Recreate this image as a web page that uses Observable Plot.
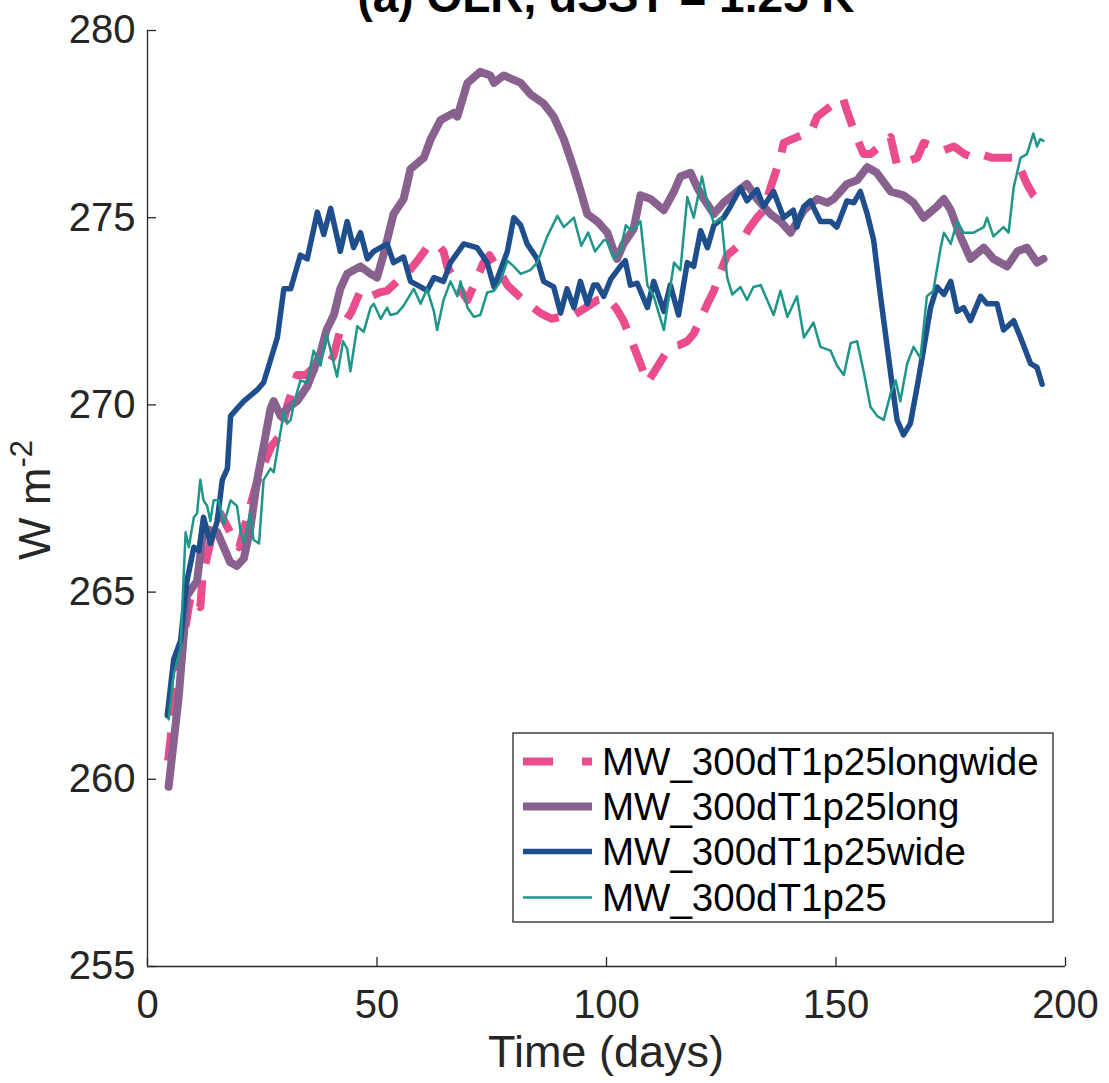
<!DOCTYPE html>
<html>
<head>
<meta charset="utf-8">
<script src="https://cdn.jsdelivr.net/npm/d3@7"></script>
<script src="https://cdn.jsdelivr.net/npm/@observablehq/plot@0.6"></script>
<style>
  html, body { margin: 0; padding: 0; background: #fff; }
  #chart { width: 1109px; height: 1083px; overflow: hidden; }
</style>
</head>
<body>
<div id="chart"></div>
<script>
// ---- Data ----
const seriesNames = ["MW_300dT1p25longwide", "MW_300dT1p25long", "MW_300dT1p25wide", "MW_300dT1p25"];
const xTicks = [0, 50, 100, 150, 200];
const yTicks = [255, 260, 265, 270, 275, 280];

const dayLongwide = [4.5,6.0,7.5,9.4,11.5,12.0,14.0,15.9,18.0,20.0,21.7,23.5,25.3,27.0,29.0,30.5,32.6,34.5,36.2,39.0,40.5,42.0,43.5,44.5,46.4,48.6,50.5,52.2,54.4,56.5,58.8,60.9,63.1,64.5,65.3,67.5,69.7,71.5,73.2,74.5,76.5,78.4,80.5,83.0,85.6,88.0,90.0,92.9,95.5,98.0,100.2,102.0,103.7,105.5,107.4,108.9,110.5,112.5,113.9,115.8,117.6,119.0,120.5,122.0,123.4,125.0,126.3,127.8,129.2,131.0,132.8,134.2,136.0,137.9,138.6,140.5,142.5,144.4,145.9,148.0,150.2,151.5,152.4,154.0,156.0,157.5,159.5,161.9,163.3,165.5,167.7,169.1,171.5,173.5,175.7,178.0,180.0,181.5,184.0,186.5,188.7,190.2,191.6,193.0,194.5,195.2];
const olrLongwide = [260.5,262.2,263.5,264.9,264.6,265.4,266.5,267.1,266.6,266.2,267.0,267.8,268.4,268.9,269.2,270.0,270.8,270.8,271.0,271.0,271.3,272.0,272.3,272.5,273.05,272.9,273.0,273.05,273.3,273.5,273.85,274.2,274.3,274.1,273.7,273.2,272.8,273.3,273.8,274.0,273.6,273.2,272.95,272.7,272.45,272.3,272.35,272.4,272.6,272.8,272.85,272.6,272.25,271.7,271.1,270.6,270.9,271.3,271.55,271.6,271.7,271.9,272.3,272.7,273.05,273.6,274.0,274.15,274.3,274.7,275.0,275.2,275.9,276.6,277.0,277.1,277.2,277.25,277.7,277.9,278.1,278.2,277.85,277.3,276.7,276.7,276.9,277.15,276.4,276.5,276.6,277.0,276.9,276.8,276.9,276.7,276.6,276.7,276.6,276.6,276.6,276.3,275.9,275.6,275.4,275.4];

const dayLong = [4.6,6.8,8.6,10.8,12.2,15.2,18.0,19.5,21.0,22.4,23.9,25.3,26.8,27.5,29.0,30.4,32.6,34.8,37.7,39.0,40.6,42.0,43.5,46.4,48.6,50.0,51.4,53.6,55.8,57.3,60.2,61.7,63.8,66.7,67.5,69.7,72.5,74.7,75.5,77.6,81.3,83.4,86.3,88.5,90.7,92.9,94.4,95.8,98.0,100.2,101.6,102.3,103.7,105.9,107.4,109.6,112.5,114.7,116.1,118.3,119.8,121.2,123.4,125.5,128.5,130.6,132.8,135.7,137.9,140.1,143.0,145.9,148.1,149.5,150.2,152.4,154.6,156.8,158.9,161.9,164.7,166.9,169.1,172.0,173.5,175.0,177.1,179.3,182.2,184.3,187.3,189.5,191.6,193.8,195.2];
const olrLong = [259.8,262.2,264.9,265.3,266.7,266.6,265.8,265.7,265.9,266.7,268.0,268.9,269.9,270.1,269.7,269.9,270.1,270.5,271.4,272.0,272.4,273.1,273.5,273.7,273.5,273.4,274.0,275.1,275.5,276.3,276.6,277.1,277.6,277.8,277.7,278.6,278.9,278.8,278.6,278.8,278.6,278.3,278.05,277.7,277.1,276.3,275.7,275.1,274.9,274.6,274.1,273.9,274.3,274.7,275.6,275.5,275.2,275.7,276.1,276.2,275.8,275.5,275.1,275.4,275.7,275.9,275.5,275.1,274.9,274.6,275.2,275.5,275.4,275.5,275.6,275.9,276.0,276.35,276.2,275.7,275.6,275.4,275.0,275.3,275.5,275.2,274.5,273.9,274.2,273.9,273.7,274.1,274.2,273.8,273.9];

const dayWide = [4.3,5.7,7.2,8.6,10.1,11.2,12.2,13.7,15.2,16.3,17.4,18.1,19.5,21.0,23.9,25.3,26.8,28.3,29.7,31.2,33.3,34.8,37.0,38.4,39.9,42.0,43.5,44.9,46.4,47.9,49.3,52.2,53.6,55.8,57.3,59.5,60.9,62.4,64.5,66.0,68.9,71.8,74.0,75.5,76.9,78.4,79.8,81.3,82.7,84.9,86.3,88.5,90.0,91.4,92.9,94.3,95.8,97.2,98.0,99.4,100.9,103.0,104.1,105.2,106.7,108.9,110.3,112.5,113.9,115.7,117.6,119.0,120.5,122.0,123.4,125.5,127.0,129.2,130.6,132.8,134.2,136.4,138.6,140.7,141.5,143.0,144.4,146.6,148.8,150.2,152.4,153.9,155.3,156.8,158.2,158.9,159.7,160.4,161.9,163.3,164.7,166.2,167.7,169.1,170.6,172.0,173.5,175.0,176.4,177.8,179.3,181.5,182.9,185.1,186.5,188.7,190.2,192.4,193.8,194.9];
const olrWide = [261.7,263.2,263.7,265.3,266.2,266.1,267.0,266.3,266.9,268.0,268.3,269.7,269.9,270.1,270.4,270.6,271.2,271.8,273.1,273.1,274.0,273.9,275.15,274.55,275.25,274.1,274.9,274.2,274.6,273.9,274.1,274.3,273.8,273.95,273.3,273.15,273.05,273.4,273.3,273.8,274.3,274.2,273.8,273.15,273.6,274.1,275.0,274.8,274.3,273.9,273.3,273.15,272.45,273.1,272.6,273.3,272.7,273.2,273.2,272.9,273.35,273.7,273.85,273.2,273.25,272.6,273.3,272.5,273.2,272.4,273.8,273.7,274.65,274.2,274.8,275.0,275.3,275.8,275.45,275.75,275.3,275.7,275.0,275.2,274.75,275.3,275.45,274.9,274.9,274.75,275.45,275.4,275.7,275.1,274.4,273.7,272.9,272.25,270.85,269.6,269.2,269.5,270.5,271.5,272.6,273.15,272.95,273.3,272.5,272.6,272.25,272.9,272.7,272.7,272.0,272.25,271.8,271.1,271.0,270.55];

const dayBase = [4.6,5.7,7.2,8.3,9.0,10.1,10.8,11.5,12.2,13.0,13.7,14.4,15.5,16.6,18.1,19.5,20.3,21.0,22.4,23.1,24.3,25.3,26.8,27.5,28.3,29.7,30.4,31.2,31.8,33.3,34.8,36.2,37.7,39.0,40.6,41.3,42.6,43.5,44.2,45.7,47.1,48.6,49.3,50.8,52.2,52.9,54.4,55.8,58.0,59.5,60.9,62.4,63.1,64.5,66.0,67.5,68.2,69.7,71.1,72.5,74.0,75.5,76.9,78.4,79.8,81.3,83.4,84.9,87.1,89.3,90.7,92.9,94.5,96.0,97.5,99.4,100.0,101.6,103.0,104.2,105.5,107.4,108.9,110.3,112.5,114.7,116.1,117.6,119.0,120.8,122.0,123.4,125.0,126.3,127.4,129.2,130.6,132.0,133.6,135.0,136.4,137.9,139.4,141.5,143.0,145.1,146.6,148.8,150.2,151.7,153.2,154.6,156.1,157.5,159.0,160.4,161.9,163.0,164.0,165.5,166.9,168.4,169.8,171.2,172.8,173.5,175.0,176.4,177.8,180.0,182.2,182.9,184.3,186.5,187.6,188.7,190.2,191.6,193.0,193.8,194.5,195.2];
const olrBase = [261.6,262.8,263.5,266.6,266.2,267.0,267.1,268.0,267.45,267.3,266.9,267.45,267.45,266.8,267.45,267.3,266.6,266.3,267.1,266.4,266.3,268.0,268.3,268.2,268.8,269.8,269.5,269.6,270.0,270.65,270.6,271.45,271.05,271.9,271.1,270.75,271.7,271.5,270.9,272.1,271.95,272.6,272.7,272.3,272.6,272.4,272.45,272.65,273.1,272.7,273.1,272.5,272.0,272.8,273.3,272.9,273.3,272.6,272.35,272.4,273.0,273.05,273.3,273.85,273.7,273.5,273.6,273.8,274.5,275.05,274.75,275.0,274.25,274.6,274.1,274.4,274.4,273.9,274.1,274.8,274.65,274.9,273.2,272.9,272.0,273.8,273.6,275.55,275.0,276.1,275.4,274.85,275.0,273.4,272.95,273.15,272.8,273.15,273.2,272.8,272.4,273.05,272.35,272.9,271.8,272.2,271.55,271.45,271.05,270.8,271.65,271.7,270.85,269.95,269.7,269.6,270.3,270.65,270.1,271.1,271.55,271.25,272.9,273.05,274.2,274.6,274.3,274.9,274.6,274.6,274.75,275.0,274.5,274.75,274.6,275.8,276.6,276.7,277.25,276.9,277.1,277.05];

const colors = ["#EA4C8C", "#89618F", "#1F4E8D", "#1E968A"];
const widths = [8, 8, 5.5, 2.5];
const dashes = ["28,17", null, null, null];

// ---- build tables ----
const dayArrays = [dayLongwide, dayLong, dayWide, dayBase];
const olrArrays = [olrLongwide, olrLong, olrWide, olrBase];
const tables = dayArrays.map((days, i) => days.map((d, j) => ({day: d, olr: olrArrays[i][j], series: seriesNames[i]})));

const axisColor = "#262626";
const font = "'Liberation Sans', Arial, Helvetica, sans-serif";

const lineMarks = tables.map((t, i) => Plot.line(t, {
  x: "day", y: "olr",
  stroke: colors[i], strokeWidth: widths[i],
  strokeDasharray: dashes[i] || undefined,
  strokeLinejoin: "round",
  strokeLinecap: dashes[i] ? "butt" : "round",
  curve: "linear"
}));

const plot = Plot.plot({
  width: 1109,
  height: 1083,
  marginLeft: 147,
  marginRight: 44,
  marginTop: 30,
  marginBottom: 117,
  style: {fontFamily: font, background: "#fff", overflow: "hidden"},
  x: {domain: [0, 200]},
  y: {domain: [255, 280]},
  marks: [
    ...lineMarks,
    Plot.ruleY([255], {stroke: axisColor, strokeWidth: 1.3}),
    Plot.ruleX([0], {stroke: axisColor, strokeWidth: 1.3}),
    Plot.axisX({ticks: xTicks, tickSize: -9, tickPadding: 32, fontSize: 40, stroke: axisColor, fill: axisColor, strokeWidth: 1.3, label: null, tickFormat: d => String(d)}),
    Plot.axisY({ticks: yTicks, tickSize: -9, tickPadding: 21, fontSize: 40, stroke: axisColor, fill: axisColor, strokeWidth: 1.3, label: null, tickFormat: d => String(d)})
  ]
});

const svg = d3.select(plot);

// Title (cut off at the top like the reference)
svg.append("text")
  .attr("x", 606).attr("y", 12)
  .attr("text-anchor", "middle")
  .attr("font-family", font).attr("font-weight", "bold").attr("font-size", 46)
  .attr("fill", "#000")
  .text("(a) OLR, dSST = 1.25 K");

// x axis title
svg.append("text")
  .attr("x", 606).attr("y", 1067)
  .attr("text-anchor", "middle")
  .attr("font-family", font).attr("font-size", 45)
  .attr("fill", axisColor)
  .text("Time (days)");

// y axis title with superscript
const yl = svg.append("text")
  .attr("transform", "translate(50,500) rotate(-90)")
  .attr("text-anchor", "middle")
  .attr("font-family", font).attr("font-size", 45)
  .attr("fill", axisColor);
yl.append("tspan").text("W m");
yl.append("tspan").attr("font-size", 31).attr("dy", -18).text("-2");

// Legend
const lg = svg.append("g").attr("text-anchor", "start");
lg.append("rect").attr("x", 513).attr("y", 733).attr("width", 540).attr("height", 189)
  .attr("fill", "#fff").attr("stroke", axisColor).attr("stroke-width", 1.3);
const rowY = [761.5, 806.5, 851.5, 897.5];
seriesNames.forEach((name, i) => {
  lg.append("line").attr("x1", 523).attr("x2", 592).attr("y1", rowY[i]).attr("y2", rowY[i])
    .attr("stroke", colors[i]).attr("stroke-width", widths[i])
    .attr("stroke-dasharray", i === 0 ? "30,29" : null);
  lg.append("text").attr("x", 602).attr("y", rowY[i] + 13)
    .attr("text-anchor", "start")
    .attr("font-family", font).attr("font-size", 38.5).attr("fill", "#000")
    .text(name);
});

document.getElementById("chart").appendChild(plot);
</script>
</body>
</html>
